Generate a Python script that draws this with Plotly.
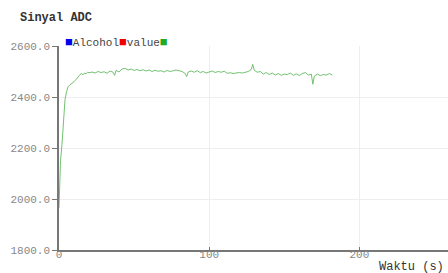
import plotly.graph_objects as go

title_text = "Sinyal ADC"
x_title = "Waktu (s)"
legend_names = ["Alcohol", "value", ""]
legend_colors = ["#0000ee", "#ee0000", "#22aa22"]

time_s = [0, 0.5, 1, 2, 3, 4, 5, 6, 7, 8, 9, 10, 11, 12, 13, 14, 15, 16, 17, 18, 19, 20,
          22, 24, 26, 28, 30, 32, 34, 36, 37, 38, 40, 42, 44, 46, 48, 50, 52, 54, 56, 58,
          60, 62, 64, 66, 68, 70, 72, 74, 76, 78, 80, 82, 84, 85, 86, 88, 90, 92, 94, 96,
          98, 100, 102, 104, 106, 108, 110, 112, 114, 116, 118, 120, 122, 124, 126, 128,
          129, 130, 132, 134, 136, 138, 140, 142, 144, 146, 148, 150, 152, 154, 156, 158,
          160, 162, 164, 166, 168, 169, 170, 172, 174, 176, 178, 180, 182]
adc = [1965, 2140, 2150, 2215, 2320, 2390, 2420, 2440, 2446, 2450, 2455, 2460, 2466, 2474,
       2482, 2488, 2492, 2487, 2494, 2491, 2497, 2495,
       2498, 2494, 2500, 2496, 2499, 2493, 2502, 2497, 2485, 2504, 2498, 2510, 2512, 2506,
       2510, 2504, 2508, 2503, 2507, 2502,
       2506, 2500, 2505, 2501, 2503, 2498, 2504, 2500, 2503, 2506, 2503, 2500, 2492, 2480,
       2498, 2502, 2497, 2503, 2496, 2500,
       2494, 2499, 2502, 2496, 2500, 2497, 2501, 2493, 2495, 2492, 2494, 2496, 2494, 2498,
       2500, 2508,
       2528, 2505, 2497, 2500, 2490, 2496, 2488, 2494, 2486, 2492, 2485, 2490, 2488, 2494,
       2485, 2491,
       2484, 2492, 2496, 2486, 2490, 2450, 2482, 2490, 2484, 2488, 2486, 2492, 2486]

x_range = [0, 259]
y_range = [1800, 2600]
x_ticks = [0, 100, 200]
y_ticks = [1800, 2000, 2200, 2400, 2600]

mono = "Liberation Mono, Courier New, monospace"

fig = go.Figure()
fig.add_trace(go.Scatter(x=time_s, y=adc, mode="lines",
                         line=dict(color="#72c272", width=1),
                         name=legend_names[2], showlegend=False))

legend_html = "".join(
    f'<span style="color:{c};font-size:13px">■</span>{n}' for n, c in zip(legend_names, legend_colors)
)

fig.update_layout(
    width=448, height=273,
    margin=dict(l=59, r=0, t=46, b=23),
    paper_bgcolor="white", plot_bgcolor="white",
    showlegend=False,
    font=dict(family=mono, size=11, color="#777"),
    xaxis=dict(range=x_range, tickvals=x_ticks, ticktext=[str(v) for v in x_ticks],
               showgrid=True, gridcolor="#eeeeee", gridwidth=1,
               showline=True, linecolor="#777", linewidth=1.5,
               ticks="inside", ticklen=3, tickcolor="#777",
               ticklabelstandoff=-7,
               zeroline=False, tickfont=dict(family=mono, size=11, color="#888")),
    yaxis=dict(range=y_range, tickvals=y_ticks, tickformat=".1f",
               showgrid=True, gridcolor="#eeeeee", gridwidth=1,
               showline=True, linecolor="#777", linewidth=1.5,
               ticks="outside", ticklen=5, tickcolor="#777",
               zeroline=False, tickfont=dict(family=mono, size=11, color="#888")),
    annotations=[
        dict(text="<b>" + title_text + "</b>", xref="paper", yref="paper", x=(18 - 59)/389,
             y=1 + (46 - 18)/204, xanchor="left", yanchor="middle", showarrow=False,
             font=dict(family=mono, size=12, color="#333")),
        dict(text=legend_html, xref="paper", yref="paper", x=(63 - 59)/389, y=1 + (46 - 42)/204,
             xanchor="left", yanchor="middle", showarrow=False,
             font=dict(family=mono, size=11, color="#444")),
        dict(text=x_title, xref="paper", yref="paper", x=(446 - 59)/389, y=-(267 - 250)/204,
             xanchor="right", yanchor="middle", showarrow=False,
             font=dict(family=mono, size=12, color="#333")),
    ],
)

fig.write_html("out.html", config={"displayModeBar": False},
               post_script="document.body.style.margin='0';document.body.style.overflow='hidden';")
